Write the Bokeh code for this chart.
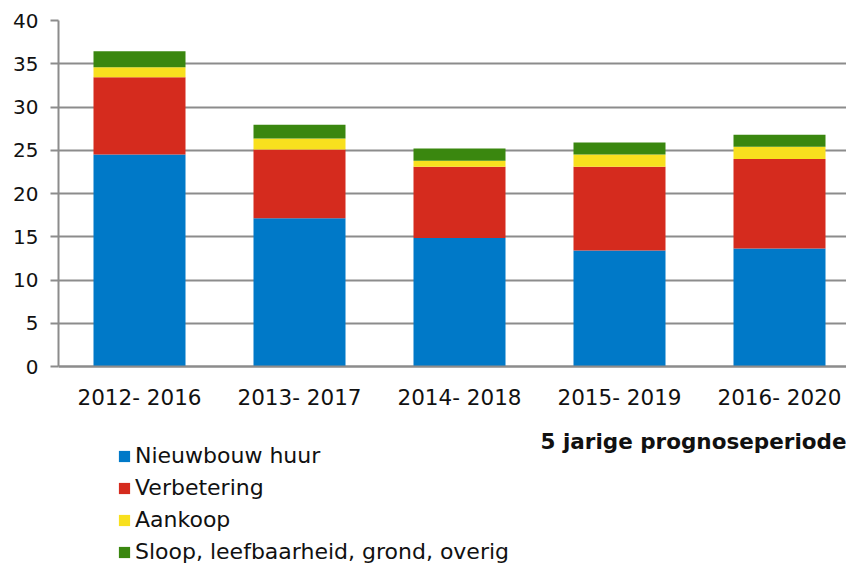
from bokeh.plotting import figure
from bokeh.models import Range1d, FixedTicker, Legend, LegendItem, Label, ColumnDataSource
from bokeh.embed import file_html
from bokeh.resources import INLINE

categories = ["2012- 2016", "2013- 2017", "2014- 2018", "2015- 2019", "2016- 2020"]
series_names = ["Nieuwbouw huur", "Verbetering", "Aankoop", "Sloop, leefbaarheid, grond, overig"]
nieuwbouw_huur = [24.5, 17.15, 14.85, 13.4, 13.65]
verbetering = [8.95, 7.95, 8.25, 9.7, 10.35]
aankoop = [1.15, 1.25, 0.7, 1.4, 1.4]
sloop_overig = [1.85, 1.6, 1.4, 1.4, 1.4]
y_ticks = [0, 5, 10, 15, 20, 25, 30, 35, 40]
x_title = "5 jarige prognoseperiode"

colors = ["#0079C8", "#D52B1E", "#F8E01E", "#3A870F"]
keys = ["s0", "s1", "s2", "s3"]
FONT = "DejaVu Sans"
TXT = "#111111"
GRID = "#8c8c8c"

W, H = 846, 564
LEFT, TOP = 58, 20
ZERO_PX = 366                      # pixel row of value 0
Y_MAX = y_ticks[-1]
px_per_unit = (ZERO_PX - TOP) / Y_MAX
y_start = -(H - ZERO_PX) / px_per_unit

xpos = list(range(len(categories)))
source = ColumnDataSource(dict(x=xpos, s0=nieuwbouw_huur, s1=verbetering, s2=aankoop, s3=sloop_overig))

x_start = -0.50625
x_end = x_start + (W - LEFT) / 160.0

p = figure(width=W, height=H,
           x_range=Range1d(x_start, x_end), y_range=Range1d(y_start, Y_MAX),
           output_backend="svg", toolbar_location=None,
           min_border_left=LEFT, min_border_right=0, min_border_top=TOP, min_border_bottom=0)
p.outline_line_color = None
p.background_fill_color = "white"
p.border_fill_color = "white"

renderers = p.vbar_stack(keys, x="x", width=0.575, color=colors, line_color=None, source=source)

p.xgrid.visible = False
p.ygrid.grid_line_color = GRID
p.ygrid.grid_line_width = 2

p.yaxis.ticker = FixedTicker(ticks=y_ticks)
p.yaxis.bounds = (0, Y_MAX)
p.yaxis.axis_line_color = GRID
p.yaxis.axis_line_width = 2
p.yaxis.major_tick_line_color = GRID
p.yaxis.major_tick_line_width = 2
p.yaxis.major_tick_out = 8
p.yaxis.major_tick_in = 0
p.yaxis.minor_tick_line_color = None
p.yaxis.major_label_standoff = 12
p.yaxis.major_label_text_font = FONT
p.yaxis.major_label_text_font_size = "20px"
p.yaxis.major_label_text_color = TXT

p.xaxis.fixed_location = 0
p.xaxis.ticker = FixedTicker(ticks=xpos)
p.xaxis.major_label_overrides = {i: c for i, c in zip(xpos, categories)}
p.xaxis.axis_line_color = GRID
p.xaxis.axis_line_width = 2
p.xaxis.major_tick_line_color = None
p.xaxis.minor_tick_line_color = None
p.xaxis.major_tick_out = 0
p.xaxis.major_tick_in = 0
p.xaxis.major_label_standoff = 18
p.xaxis.major_label_text_font = FONT
p.xaxis.major_label_text_font_size = "21.5px"
p.xaxis.major_label_text_color = TXT

title = Label(x=x_end, y=0, x_units="data", y_units="data", text=x_title,
              text_align="right", text_baseline="middle", y_offset=-75,
              text_font=FONT, text_font_style="bold", text_font_size="21.5px", text_color=TXT)
p.add_layout(title)

items = [LegendItem(label=n, renderers=[r]) for n, r in zip(series_names, renderers)]
legend = Legend(items=items, location=(59, 0), orientation="vertical",
                glyph_width=14, glyph_height=14, label_standoff=4,
                label_height=20, spacing=7, padding=0, margin=0,
                label_text_font=FONT, label_text_font_size="22px", label_text_color=TXT,
                border_line_color=None, background_fill_alpha=0)
p.add_layout(legend, "center")

open("out.html", "w").write(file_html(p, INLINE))
